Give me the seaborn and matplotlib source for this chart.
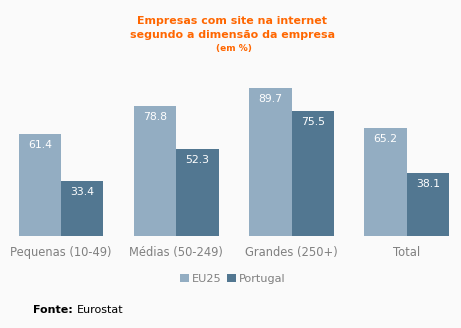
import matplotlib
matplotlib.use("Agg")
import matplotlib.pyplot as plt
import seaborn as sns
import pandas as pd
from matplotlib.patches import Patch

categories = ["Pequenas (10-49)", "Médias (50-249)", "Grandes (250+)", "Total"]
eu25 = [61.4, 78.8, 89.7, 65.2]
portugal = [33.4, 52.3, 75.5, 38.1]
series = ["EU25", "Portugal"]
colors = {"EU25": "#93adc2", "Portugal": "#527791"}

df = pd.DataFrame({
    "cat": categories * 2,
    "serie": ["EU25"] * 4 + ["Portugal"] * 4,
    "val": eu25 + portugal,
})

sns.set_style("white")
plt.rcParams["font.family"] = ["DejaVu Sans"]
bg = "#fafafa"
W, H = 461, 328
fig = plt.figure(figsize=(W / 100, H / 100), dpi=100, facecolor=bg)
ax = fig.add_axes([0, (H - 235.7) / H, 1, 165 / H])
ax.set_facecolor("none")

sns.barplot(data=df, x="cat", y="val", hue="serie", order=categories,
            hue_order=series, palette=colors, width=0.737, saturation=1,
            legend=False, ax=ax, linewidth=0, errorbar=None)

ax.set_xlim((0 - 61) / 115.33, (W - 61) / 115.33)
ax.set_ylim(0, 100)
for s in ax.spines.values():
    s.set_visible(False)
ax.set_yticks([])
ax.set_xlabel("")
ax.set_ylabel("")
ax.tick_params(axis="x", length=0, pad=7.5, labelsize=8.3, labelcolor="#808080")

for cont in ax.containers:
    for bar in cont:
        h = bar.get_height()
        ax.annotate(f"{h:.1f}", (bar.get_x() + bar.get_width() / 2, h),
                    xytext=(0, -11), textcoords="offset pixels",
                    ha="center", va="center", color="white", fontsize=7.8)

fig.text(232 / W, 1 - 21 / H, "Empresas com site na internet", ha="center",
         va="center", color="#ff6600", fontsize=7.9, fontweight="bold")
fig.text(232 / W, 1 - 35 / H, "segundo a dimensão da empresa", ha="center",
         va="center", color="#ff6600", fontsize=7.9, fontweight="bold")
fig.text(234 / W, 1 - 48 / H, "(em %)", ha="center",
         va="center", color="#ff6600", fontsize=6.5, fontweight="bold")

handles = [Patch(facecolor=colors[s], edgecolor="none") for s in series]
fig.legend(handles, series, loc="center", bbox_to_anchor=(233 / W, 1 - 279 / H),
           ncol=2, frameon=False, fontsize=8.1, labelcolor="#808080",
           handlelength=0.75, handleheight=0.75, handletextpad=0.3,
           columnspacing=0.5)

t1 = fig.text(33 / W, 1 - 310 / H, "Fonte:", ha="left", va="center",
              color="black", fontsize=8, fontweight="bold")
fig.canvas.draw()
bb = t1.get_window_extent()
fig.text((bb.x1 + 4) / W, 1 - 310 / H, "Eurostat", ha="left", va="center",
         color="black", fontsize=8)

fig.savefig("out.png", dpi=100, facecolor=bg)
